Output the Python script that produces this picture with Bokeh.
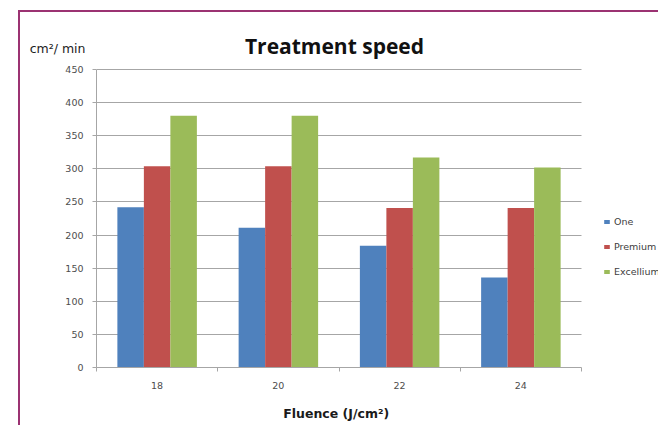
from bokeh.plotting import figure
from bokeh.models import (Range1d, Legend, LegendItem, Label, Grid,
                          FixedTicker, LinearAxis, ColumnDataSource)
from bokeh.transform import dodge
from bokeh.embed import file_html
from bokeh.resources import INLINE

# ---- data ----
categories = ["18", "20", "22", "24"]
series_names = ["One", "Premium", "Excellium"]
one = [242, 211, 184, 136]
premium = [304, 304, 241, 241]
excellium = [380, 380, 317, 302]
y_ticks = [0, 50, 100, 150, 200, 250, 300, 350, 400, 450]
colors = ["#4f81bd", "#c0504d", "#9bbb59"]

title_text = "Treatment speed"
y_unit_text = "cm\u00b2/ min"
x_title_text = "Fluence (J/cm\u00b2)"

# ---- layout constants (pixels) ----
W, H = 658, 425
PLOT_LEFT, PLOT_RIGHT = 96, 581
FRAME_TOP, PLOT_TOP, PLOT_BOTTOM = 20, 69, 367
Y_MAX = 450
N = len(categories)
PLOT_W = PLOT_RIGHT - PLOT_LEFT
PLOT_H = PLOT_BOTTOM - PLOT_TOP
X_END = N * (W - PLOT_LEFT) / PLOT_W                  # frame reaches to the right edge
Y_TOP = Y_MAX * (PLOT_BOTTOM - FRAME_TOP) / PLOT_H     # frame reaches above the 450 line

def dx(px):  # px from frame left -> x data
    return px / PLOT_W * N

def dy(px):  # px above frame bottom -> y data
    return px / PLOT_H * Y_MAX

centers = [i + 0.5 for i in range(N)]
src = ColumnDataSource(dict(xc=centers, one=one, premium=premium, excellium=excellium))

p = figure(x_range=Range1d(0, X_END), y_range=Range1d(0, Y_TOP),
           width=W, height=H, output_backend="svg", toolbar_location=None,
           min_border_left=PLOT_LEFT, min_border_right=0,
           min_border_top=FRAME_TOP, min_border_bottom=H - PLOT_BOTTOM,
           x_axis_type=None, y_axis_type=None)
p.title.text = ""

p.styles = {
    "background": "linear-gradient(#9b3272,#9b3272) 18px 10px / 640px 2px no-repeat, "
                  "linear-gradient(#9b3272,#9b3272) 18px 10px / 2px 415px no-repeat, #ffffff"
}
p.border_fill_color = None
p.background_fill_color = "white"
p.outline_line_color = None

# grid (limited to the plot area)
yg = Grid(dimension=1, ticker=FixedTicker(ticks=y_ticks))
if "cross_bounds" in yg.properties():
    yg.cross_bounds = (0, N)
    yg.grid_line_color = "#a6a6a6"
    yg.grid_line_width = 1
    p.add_layout(yg)
else:
    gsrc = ColumnDataSource(dict(y=y_ticks[1:], x0=[0] * (len(y_ticks) - 1),
                                 x1=[N] * (len(y_ticks) - 1)))
    p.segment(x0="x0", x1="x1", y0="y", y1="y", source=gsrc,
              line_color="#a6a6a6", line_width=1)

bw = dx(26.5)
fields = ["one", "premium", "excellium"]
offsets = [-bw, 0, bw]
renderers = []
for f, off, c in zip(fields, offsets, colors):
    r = p.vbar(x=dodge("xc", off), top=f, width=bw, source=src,
               fill_color=c, line_color=None)
    renderers.append(r)

# y axis (value scale)
ya = LinearAxis(ticker=FixedTicker(ticks=y_ticks), bounds=(0, Y_MAX))
ya.axis_line_color = "#a6a6a6"
ya.major_tick_line_color = "#a6a6a6"
ya.major_tick_out = 4
ya.major_tick_in = 0
ya.minor_tick_line_color = None
ya.major_label_standoff = 9
ya.major_label_text_font = "DejaVu Sans"
ya.major_label_text_font_size = "9.5px"
ya.major_label_text_color = "#4d4d4d"
p.add_layout(ya, "left")

# unit text shown above the value labels
unit_pos = round(dy(PLOT_BOTTOM - 48.5))
ua = LinearAxis(ticker=FixedTicker(ticks=[unit_pos]))
ua.major_label_overrides = {unit_pos: y_unit_text}
ua.axis_line_color = None
ua.major_tick_line_color = None
ua.minor_tick_line_color = None
ua.major_tick_out = 0
ua.major_tick_in = 0
ua.major_label_standoff = -23
ua.major_label_text_font = "DejaVu Sans"
ua.major_label_text_font_size = "12.5px"
ua.major_label_text_color = "#222222"
p.add_layout(ua, "left")

# x axes: boundary ticks + category labels
tick_axis = LinearAxis(ticker=FixedTicker(ticks=list(range(N + 1))), bounds=(0, N),
                       major_label_text_font_size="0px", major_label_standoff=0,
                       major_tick_out=4, major_tick_in=0, minor_tick_line_color=None,
                       axis_line_color="#a6a6a6", major_tick_line_color="#a6a6a6")
tick_axis.major_label_overrides = {i: "" for i in range(N + 1)}

cat_axis = LinearAxis(ticker=FixedTicker(ticks=centers), bounds=(0, N))
cat_axis.major_label_overrides = {c: lab for c, lab in zip(centers, categories)}
cat_axis.axis_line_color = None
cat_axis.major_tick_line_color = None
cat_axis.minor_tick_line_color = None
cat_axis.major_label_standoff = 4
cat_axis.major_label_text_font = "DejaVu Sans"
cat_axis.major_label_text_font_size = "9.5px"
cat_axis.major_label_text_color = "#4d4d4d"
# the axis title is centred on the whole frame; pad it so it sits under the plot area
cat_axis.axis_label = x_title_text + "\u00a0" * 19
cat_axis.axis_label_standoff = 14
cat_axis.axis_label_text_font = "DejaVu Sans"
cat_axis.axis_label_text_font_style = "bold"
cat_axis.axis_label_text_font_size = "12.5px"
cat_axis.axis_label_text_color = "#1a1a1a"

p.add_layout(tick_axis, "below")
p.add_layout(cat_axis, "below")

# chart title (inside the frame, above the plot area)
p.add_layout(Label(x=dx(334 - PLOT_LEFT), y=dy(PLOT_BOTTOM - 45), text=title_text,
                   text_font="Open Sans", text_font_style="bold", text_font_size="21px",
                   text_color="#111111", text_align="center", text_baseline="alphabetic"))

# series legend (right of the plot area)
legend = Legend(items=[LegendItem(label=n, renderers=[r]) for n, r in zip(series_names, renderers)],
                location=(603 - PLOT_LEFT, 90), orientation="vertical",
                border_line_color=None, background_fill_alpha=0,
                padding=0, margin=0, spacing=14, label_height=5,
                glyph_height=5, glyph_width=7, label_standoff=4,
                label_text_font="DejaVu Sans", label_text_font_size="9.5px",
                label_text_color="#404040")
p.add_layout(legend)

open("out.html", "w").write(file_html(p, INLINE))
